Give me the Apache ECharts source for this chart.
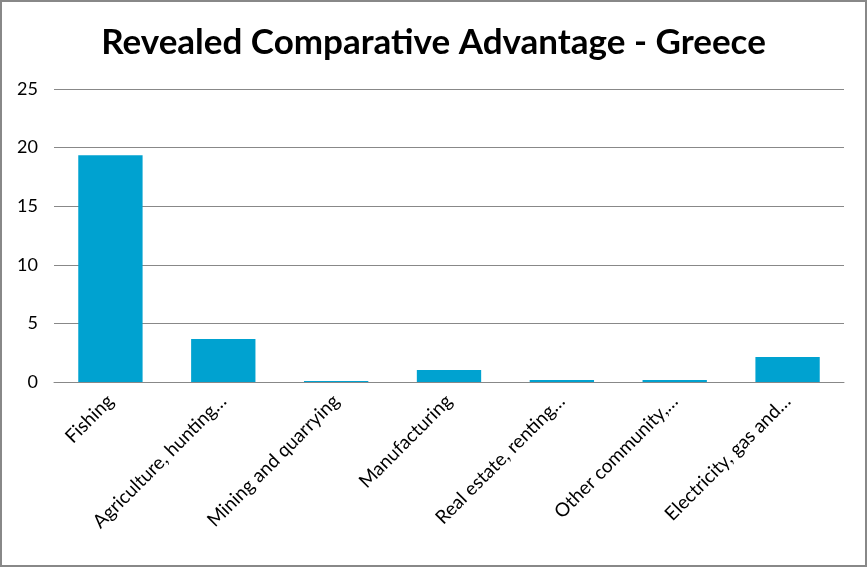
<!DOCTYPE html>
<html>
<head>
<meta charset="utf-8">
<script src="https://cdn.jsdelivr.net/npm/echarts@6/dist/echarts.min.js"></script>
<style>
    html, body { margin: 0; padding: 0; background: #fff; }
    #chart { width: 863px; height: 563px; border: 2px solid #888; }
</style>
</head>
<body>
<div id="chart"></div>
<script>
const sectors = [
    'Fishing',
    'Agriculture, hunting…',
    'Mining and quarrying',
    'Manufacturing',
    'Real estate, renting…',
    'Other community,…',
    'Electricity, gas and…'
];
const rcaValues = [19.35, 3.67, 0.08, 1.02, 0.17, 0.17, 2.13];
const yTicks = { min: 0, max: 25, interval: 5 };

const chart = echarts.init(document.getElementById('chart'));

const option = {
    animation: false,
    title: {
        text: 'Revealed Comparative Advantage - Greece',
        left: 'center',
        top: 18,
        textStyle: {
            fontFamily: 'Lato',
            fontSize: 35,
            fontWeight: 'bold',
            color: '#000'
        }
    },
    grid: {
        left: 52,
        right: 21,
        top: 87,
        bottom: 183
    },
    xAxis: {
        type: 'category',
        data: sectors,
        axisLine: { lineStyle: { color: '#888', width: 1 } },
        axisTick: { show: false },
        axisLabel: {
            rotate: 45,
            interval: 0,
            margin: 16,
            fontFamily: 'Lato',
            fontSize: 19,
            color: '#000'
        }
    },
    yAxis: {
        type: 'value',
        min: yTicks.min,
        max: yTicks.max,
        interval: yTicks.interval,
        axisLine: { show: false },
        axisTick: { show: false },
        axisLabel: {
            margin: 16,
            fontFamily: 'Lato',
            fontSize: 18,
            color: '#000'
        },
        splitLine: { lineStyle: { color: '#888', width: 1 } }
    },
    series: [
        {
            name: 'RCA',
            type: 'bar',
            data: rcaValues,
            barWidth: '57%',
            itemStyle: { color: '#00A2D0' }
        }
    ]
};

chart.setOption(option);
</script>
</body>
</html>
